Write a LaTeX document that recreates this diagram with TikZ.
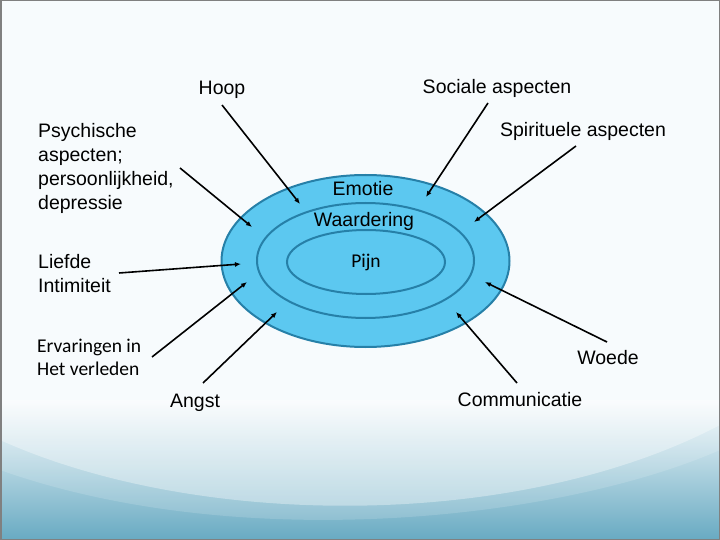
\documentclass[tikz,border=0pt]{standalone}
\usepackage{fontspec}
\setmainfont{Liberation Sans}
\newfontfamily\calibfont{Carlito}
\usetikzlibrary{arrows.meta}

\definecolor{ringfill}{RGB}{92,200,240}
\definecolor{ringline}{RGB}{38,128,168}
\definecolor{seablue}{RGB}{104,170,194}
\definecolor{paper}{RGB}{247,251,253}

\tikzset{
  ring/.style={draw=ringline, line width=2pt, fill=ringfill},
  lbl/.style={inner sep=0pt, anchor=base, font=\fontsize{19.5}{24}\selectfont},
  lblblock/.style={lbl, anchor=north west, align=left},
  calib/.style={font=\calibfont\fontsize{19.5}{23}\selectfont},
  pointer/.style={draw=black, line width=1.6pt, -{Latex[length=6pt,width=5pt]}}
}

\begin{document}
\begin{tikzpicture}[x=1pt, y=-1pt]
  \useasboundingbox (0,0) rectangle (720,540);
  % background
  \fill[paper] (0,0) rectangle (720,540);
  \shade[top color=paper, bottom color=seablue] (0,400) rectangle (720,540);
  \fill[white, opacity=0.35] (0,440) .. controls (200,530) and (520,530) .. (720,425)
    -- (720,400) -- (0,400) -- cycle;
  \fill[white, opacity=0.15] (0,470) .. controls (240,555) and (560,520) .. (720,450)
    -- (720,400) -- (0,400) -- cycle;
  \draw[gray, line width=1.5pt] (0.75,0.75) rectangle (719.25,539.25);

  % rings
  \filldraw[ring] (365.5,261) ellipse [x radius=144, y radius=86];
  \filldraw[ring] (365.5,260.5) ellipse [x radius=108.5, y radius=57.5];
  \filldraw[ring] (366,262) ellipse [x radius=79, y radius=32];

  % labels
  \draw
    (363,196) node[lbl] (emotie){Emotie}
    (364,226) node[lbl] (waard){Waardering}
    (366,267) node[lbl, calib] (pijn){Pijn}
    (222,95) node[lbl] (hoop){Hoop}
    (497,94) node[lbl] (sociaal){Sociale aspecten}
    (583,137) node[lbl] (spiri){Spirituele aspecten}
    (38,123) node[lblblock] (psych){Psychische\\aspecten;\\persoonlijkheid,\\depressie}
    (38,254) node[lblblock] (liefde){Liefde\\Intimiteit}
    (37,339) node[lblblock, calib] (ervaring){Ervaringen in\\Het verleden}
    (195,407) node[lbl] (angst){Angst}
    (520,406) node[lbl] (comm){Communicatie}
    (608,364) node[lbl] (woede){Woede};

  % pointer ends
  \coordinate (hoop-a) at (222,105);   \coordinate (hoop-b) at (300,204);
  \coordinate (sociaal-a) at (488,103);\coordinate (sociaal-b) at (426,197);
  \coordinate (spiri-a) at (576,146);  \coordinate (spiri-b) at (474,222);
  \coordinate (psych-a) at (180,168);  \coordinate (psych-b) at (252,227);
  \coordinate (liefde-a) at (119,273); \coordinate (liefde-b) at (241,264);
  \coordinate (ervaring-a) at (152,357);\coordinate (ervaring-b) at (247,282);
  \coordinate (angst-a) at (203,383);  \coordinate (angst-b) at (277,312);
  \coordinate (comm-a) at (517,383);   \coordinate (comm-b) at (456,312);
  \coordinate (woede-a) at (607,342);  \coordinate (woede-b) at (485,282);

  \begin{scope}[pointer]
    \draw (hoop-a) to (hoop-b);
    \draw (sociaal-a) to (sociaal-b);
    \draw (spiri-a) to (spiri-b);
    \draw (psych-a) to (psych-b);
    \draw (liefde-a) to (liefde-b);
    \draw (ervaring-a) to (ervaring-b);
    \draw (angst-a) to (angst-b);
    \draw (comm-a) to (comm-b);
    \draw (woede-a) to (woede-b);
  \end{scope}
\end{tikzpicture}
\end{document}
